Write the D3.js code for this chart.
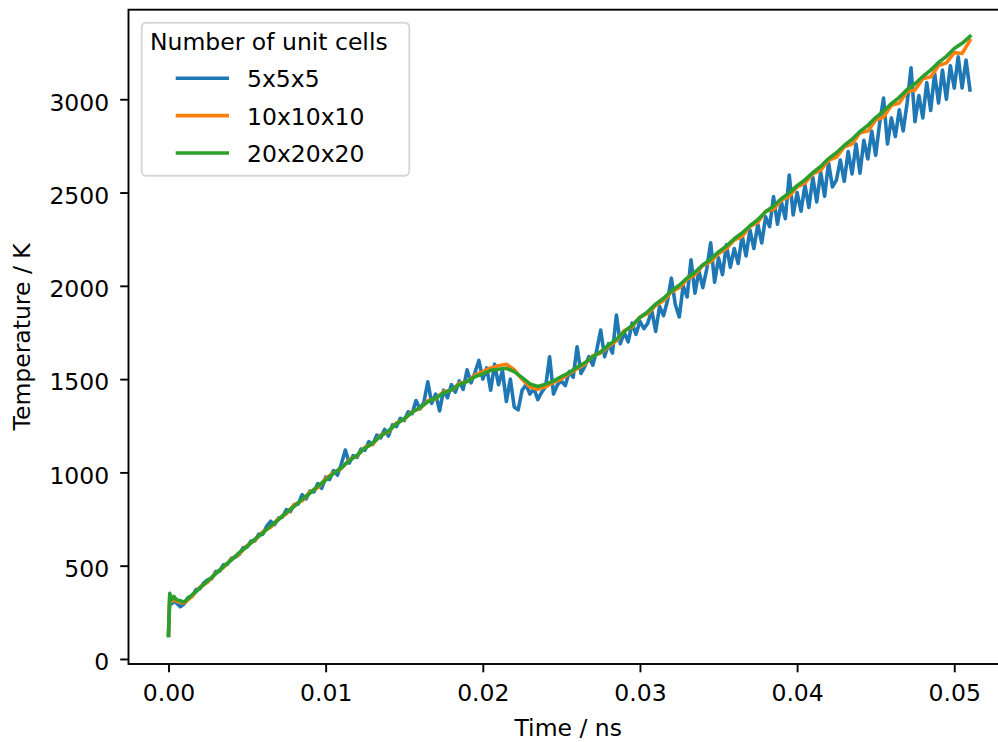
<!DOCTYPE html>
<html>
<head>
<meta charset="utf-8">
<script src="https://cdn.jsdelivr.net/npm/d3@7"></script>
<style>
  body { margin: 0; background: #fff; }
  svg { display: block; font-family: "DejaVu Sans", sans-serif; }
</style>
</head>
<body>
<svg width="998" height="742"></svg>
<script>
const seriesNames = ["5x5x5", "10x10x10", "20x20x20"];
const colors = ["#1f77b4", "#ff7f0e", "#2ca02c"];
const xTicks = [0, 0.01, 0.02, 0.03, 0.04, 0.05];
const yTicks = [0, 500, 1000, 1500, 2000, 2500, 3000];

// first few samples right after t = 0
const startTime = [0, 0.00008, 0.0002, 0.00035];
const startBlue = [128, 330, 295, 310];
const startOrange = [130, 340, 310, 320];
const startGreen = [125, 352, 318, 335];

// 5x5x5 sampled every 0.00025 ns from 0.0005 ns
const blueStep = 0.00025;
const blueValues = [
  300, 280, 296, 330, 336, 372, 376, 408,
  425, 430, 468, 470, 505, 507, 540, 545,
  560, 596, 600, 632, 633, 670, 668, 712,
  738, 720, 755, 760, 800, 790, 828, 830,
  880, 858, 900, 895, 940, 915, 975, 962,
  1010, 985, 1045, 1120, 1050, 1090, 1080, 1125,
  1118, 1165, 1150, 1200, 1185, 1230, 1195, 1255,
  1245, 1290, 1278, 1325, 1315, 1385, 1340, 1375,
  1486, 1370, 1420, 1330, 1440, 1400, 1470, 1430,
  1490, 1445, 1550, 1480, 1535, 1600, 1500, 1560,
  1440, 1580, 1470, 1545, 1380, 1500, 1350, 1335,
  1440, 1470, 1420, 1450, 1390, 1430, 1460, 1620,
  1420, 1470, 1490, 1465, 1540, 1510, 1673, 1530,
  1570, 1620, 1575, 1655, 1763, 1620, 1690, 1640,
  1843, 1690, 1750, 1700, 1800, 1740, 1810, 1770,
  1800, 1870, 1755, 1890, 1840, 1920, 2041, 1900,
  1833, 2000, 1940, 2140, 1960, 2080, 1990, 2090,
  2231, 2020, 2150, 2060, 2220, 2100, 2200, 2120,
  2270, 2160, 2300, 2200, 2330, 2230, 2370, 2317,
  2478, 2330, 2450, 2360, 2594, 2380, 2500, 2400,
  2540, 2420, 2580, 2450, 2610, 2480, 2660, 2530,
  2567, 2674, 2560, 2720, 2600, 2760, 2604, 2780,
  2680, 2830, 2700, 2870, 3007, 2760, 2900, 2800,
  2943, 2830, 2980, 3168, 2880, 3020, 2900, 3090,
  2940, 3140, 2980, 3157, 3000, 3180, 3060, 3228,
  3060, 3210, 3050
];

// 10x10x10 and 20x20x20 sampled every 0.0005 ns from 0.0005 ns
const coarseStep = 0.0005;
const orangeValues = [
  310, 300, 335, 385, 412, 460, 490, 535, 562, 608,
  636, 682, 706, 752, 778, 826, 848, 895, 918, 966,
  998, 1020, 1068, 1088, 1135, 1152, 1200, 1218, 1265, 1284,
  1326, 1342, 1384, 1395, 1432, 1440, 1478, 1486, 1522, 1540,
  1560, 1572, 1580, 1550, 1500, 1458, 1445, 1460, 1482, 1500,
  1530, 1556, 1580, 1625, 1640, 1676, 1705, 1760, 1780, 1832,
  1852, 1895, 1920, 1968, 1990, 2035, 2060, 2110, 2130, 2172,
  2200, 2245, 2265, 2318, 2340, 2400, 2410, 2460, 2480, 2530,
  2550, 2600, 2620, 2672, 2690, 2745, 2760, 2820, 2830, 2888,
  2905, 2968, 2980, 3040, 3050, 3110, 3120, 3180, 3195, 3250,
  3245, 3315
];
const greenValues = [
  318, 305, 344, 380, 420, 456, 496, 530, 570, 603,
  642, 675, 714, 747, 786, 818, 856, 888, 927, 958,
  995, 1025, 1063, 1092, 1130, 1158, 1195, 1223, 1260, 1288,
  1322, 1348, 1378, 1398, 1425, 1443, 1470, 1488, 1513, 1528,
  1547, 1553, 1558, 1540, 1508, 1474, 1460, 1473, 1489, 1514,
  1535, 1563, 1588, 1620, 1646, 1682, 1714, 1754, 1788, 1830,
  1862, 1902, 1933, 1972, 2003, 2042, 2073, 2112, 2143, 2182,
  2213, 2252, 2283, 2322, 2355, 2397, 2428, 2467, 2498, 2537,
  2568, 2607, 2640, 2682, 2713, 2752, 2786, 2827, 2860, 2902,
  2936, 2977, 3010, 3052, 3083, 3122, 3156, 3197, 3230, 3272,
  3300, 3337
];

const svg = d3.select("svg");
const fontSize = 23.5;
const plotLeft = 128.5;
const plotRight = 1008;
const plotTop = 9.7;
const plotBottom = 664;

const x = d3.scaleLinear().domain([-0.002546, 0.05342]).range([plotLeft, plotRight]);
const y = d3.scaleLinear().domain([-27, 3480]).range([plotBottom, plotTop]);

const toSeries = (starts, values, step) =>
  startTime
    .map((t, i) => [t, starts[i]])
    .concat(values.map((v, i) => [0.0005 + i * step, v]));

const series = [
  toSeries(startBlue, blueValues, blueStep),
  toSeries(startOrange, orangeValues, coarseStep),
  toSeries(startGreen, greenValues, coarseStep),
];

svg
  .append("clipPath")
  .attr("id", "plot-area")
  .append("rect")
  .attr("x", plotLeft)
  .attr("y", plotTop)
  .attr("width", plotRight - plotLeft)
  .attr("height", plotBottom - plotTop);

const line = d3
  .line()
  .x((d) => x(d[0]))
  .y((d) => y(d[1]));

svg
  .append("g")
  .attr("clip-path", "url(#plot-area)")
  .selectAll("path")
  .data(series)
  .join("path")
  .attr("d", line)
  .attr("fill", "none")
  .attr("stroke", (d, i) => colors[i])
  .attr("stroke-width", 3.6)
  .attr("stroke-linejoin", "round")
  .attr("stroke-linecap", "square");

const xAxis = svg
  .append("g")
  .attr("transform", `translate(0, ${plotBottom})`)
  .call(
    d3
      .axisBottom(x)
      .tickValues(xTicks)
      .tickFormat(d3.format(".2f"))
      .tickSize(8.3)
      .tickPadding(12.5)
  );

const yAxis = svg
  .append("g")
  .attr("transform", `translate(${plotLeft}, 0)`)
  .call(
    d3
      .axisLeft(y)
      .tickValues(yTicks)
      .tickFormat(d3.format("d"))
      .tickSize(8.3)
      .tickPadding(11)
  );

[xAxis, yAxis].forEach((ax) => {
  ax.select(".domain").remove();
  ax.selectAll("line").attr("stroke", "#000").attr("stroke-width", 1.9);
  ax.selectAll("text")
    .attr("font-family", "DejaVu Sans")
    .attr("font-size", fontSize)
    .attr("fill", "#000");
});
yAxis.selectAll("text").attr("dy", "0.46em");

svg
  .append("rect")
  .attr("x", plotLeft)
  .attr("y", plotTop)
  .attr("width", plotRight - plotLeft)
  .attr("height", plotBottom - plotTop)
  .attr("fill", "none")
  .attr("stroke", "#000")
  .attr("stroke-width", 1.9);

svg
  .append("text")
  .attr("x", (plotLeft + plotRight) / 2)
  .attr("y", 736)
  .attr("text-anchor", "middle")
  .attr("font-size", fontSize)
  .text("Time / ns");

svg
  .append("text")
  .attr("transform", `translate(30, ${(plotTop + plotBottom) / 2}) rotate(-90)`)
  .attr("text-anchor", "middle")
  .attr("font-size", fontSize)
  .text("Temperature / K");

const legend = svg.append("g");

legend
  .append("rect")
  .attr("x", 141.7)
  .attr("y", 22.7)
  .attr("width", 267.6)
  .attr("height", 153)
  .attr("rx", 4.5)
  .attr("fill", "#fff")
  .attr("fill-opacity", 0.8)
  .attr("stroke", "#d6d6d6")
  .attr("stroke-width", 1.9);

legend
  .append("text")
  .attr("x", 150)
  .attr("y", 50)
  .attr("font-size", fontSize)
  .text("Number of unit cells");

const items = legend
  .selectAll("g.item")
  .data(seriesNames)
  .join("g")
  .attr("class", "item")
  .attr("transform", (d, i) => `translate(0, ${78.3 + i * 37.35})`);

items
  .append("line")
  .attr("x1", 175.7)
  .attr("x2", 229)
  .attr("stroke", (d, i) => colors[i])
  .attr("stroke-width", 3.6);

items
  .append("text")
  .attr("x", 247)
  .attr("y", 9)
  .attr("font-size", fontSize)
  .text((d) => d);
</script>
</body>
</html>
